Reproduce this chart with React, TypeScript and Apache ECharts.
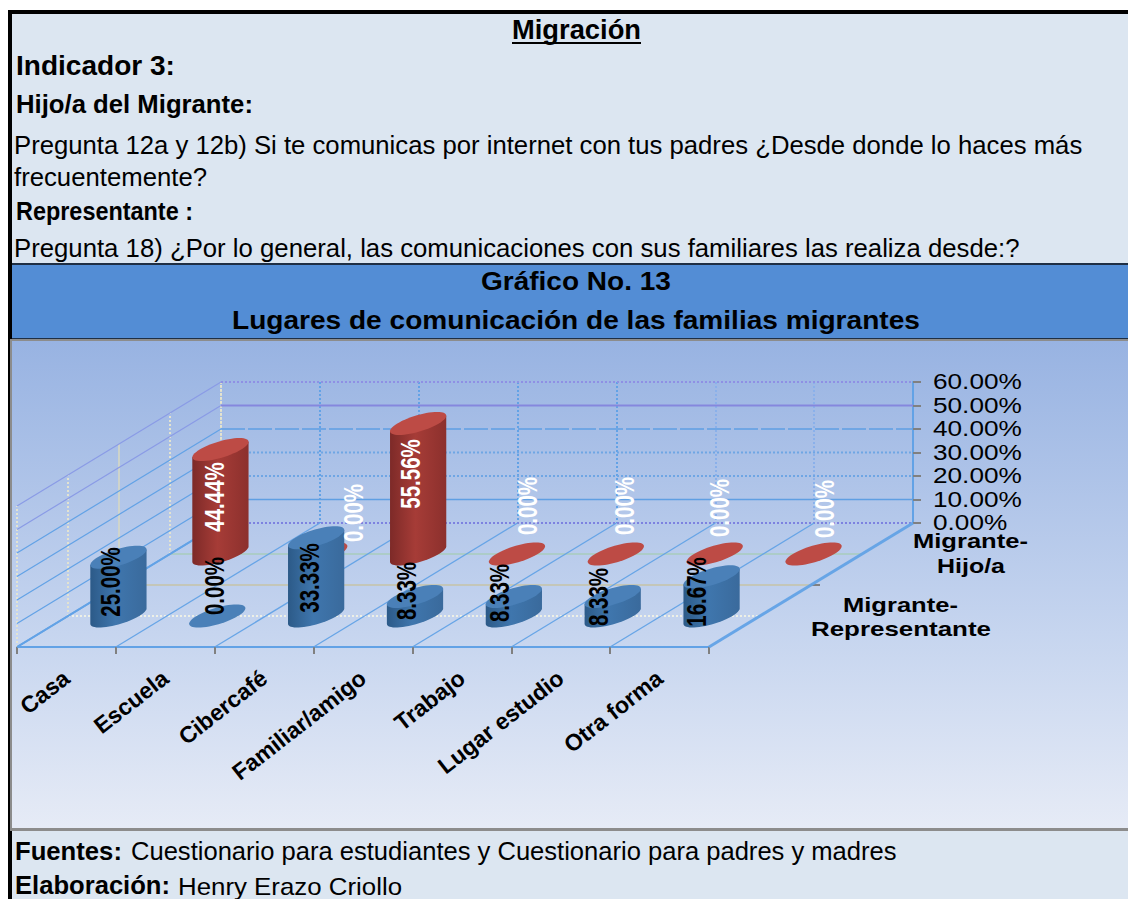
import React, { useEffect, useRef } from "react";
import * as echarts from "echarts";

const categories = ["Casa", "Escuela", "Cibercafé", "Familiar/amigo", "Trabajo", "Lugar estudio", "Otra forma"];
const representante = [25.0, 0.0, 33.33, 8.33, 8.33, 8.33, 16.67];
const hijo = [44.44, 0.0, 55.56, 0.0, 0.0, 0.0, 0.0];
const yTicks = [0, 10, 20, 30, 40, 50, 60];
const depthSteps = [0, 0.25, 0.5, 0.75, 1];

// layout only
const FONT = "'Liberation Sans', Arial, sans-serif";
const DEPTH_X = 204;
const DEPTH_Y = -124;
const blueLabelNudge = [[-8, -34], [-3, -30], [-7, -38], [-9, -25], [-14, -23], [-14, -19], [-15, -24]];
const redLabelNudge = [[-6, -57], [34, -41], [-8, -80], [10, -48], [9, -48], [5, -46], [11, -45]];
const backLineStyles: any[] = [
  { stroke: "#7d82e0", lineWidth: 2, lineDash: [2, 2] },
  { stroke: "#5f9fe3", lineWidth: 1.6 },
  { stroke: "#6fa6e4", lineWidth: 2, lineDash: [2, 2] },
  { stroke: "#6fa6e4", lineWidth: 2, lineDash: [2, 2] },
  { stroke: "#5f9fe3", lineWidth: 1.4, lineDash: [24, 3] },
  { stroke: "#8587de", lineWidth: 2 },
  { stroke: "#8f90e4", lineWidth: 2, lineDash: [2, 2] },
];
const floorLineStyles: any[] = [
  null,
  { stroke: "#eef0e6", lineWidth: 2, lineDash: [2, 2] },
  { stroke: "#c6c3a6", lineWidth: 1.5 },
  { stroke: "#a9cdbc", lineWidth: 1.5 },
  null,
];

const measureCtx = document.createElement("canvas").getContext("2d")!;

function txt(text: string, x: number, y: number, size: number, bold: boolean, width: number, fill = "#000") {
  const font = `${bold ? "bold " : ""}${size}px ${FONT}`;
  measureCtx.font = font;
  const scale = width / measureCtx.measureText(text).width;
  return {
    type: "text",
    x,
    y,
    scaleX: scale,
    z: 1,
    silent: true,
    style: { text, x: 0, y: 0, font, fill, align: "left", textAlign: "left", verticalAlign: "middle", textVerticalAlign: "middle" },
  };
}

function frontOrigin(api: any, i: number) {
  const c = api.coord([i, 0]);
  const band = api.size([1, 0])[0];
  return { x: c[0], y: c[1], band };
}

function renderBars(depth: number, colors: { top: string; dark: string; mid: string; right: string }) {
  return (params: any, api: any) => {
    const i = api.value(0);
    const v = api.value(1);
    const o = frontOrigin(api, i);
    const top = api.coord([i, v]);
    const cx = o.x + depth * DEPTH_X + 1;
    const cy = o.y + depth * DEPTH_Y;
    const h = o.y - top[1];
    const rx = o.band * 0.21;
    const rdx = DEPTH_X * 0.093;
    const rdy = DEPTH_Y * 0.093;
    const t0 = Math.atan2(rdx, rx);
    const pt = (t: number, yy: number) => [cx + rx * Math.cos(t) + rdx * Math.sin(t), yy + rdy * Math.sin(t)];
    const N = 28;
    const children: any[] = [];
    if (h > 0.5) {
      const body: number[][] = [];
      for (let k = 0; k <= N; k++) body.push(pt(t0 - (Math.PI * k) / N, cy));
      body.push(pt(t0 - Math.PI, cy - h));
      body.push(pt(t0, cy - h));
      children.push({
        type: "polygon",
        shape: { points: body },
        style: {
          fill: new echarts.graphic.LinearGradient(0, 0, 1, 0, [
            { offset: 0, color: colors.dark },
            { offset: 0.45, color: colors.mid },
            { offset: 1, color: colors.right },
          ]),
        },
      });
    }
    const cap: number[][] = [];
    for (let k = 0; k < N * 2; k++) cap.push(pt((Math.PI * k) / N, cy - h));
    children.push({ type: "polygon", shape: { points: cap }, style: { fill: colors.top } });
    return { type: "group", children };
  };
}

function renderLabels(depth: number, nudge: number[][], fill: string, weight: string) {
  return (params: any, api: any) => {
    const i = api.value(0);
    const v = api.value(1);
    const o = frontOrigin(api, i);
    const font = `${weight} 27px ${FONT}`;
    return {
      type: "text",
      x: o.x + depth * DEPTH_X + 1 + nudge[i][0],
      y: o.y + depth * DEPTH_Y + nudge[i][1],
      rotation: Math.PI / 2,
      scaleX: 0.76,
      style: {
        text: v.toFixed(2) + "%",
        x: 0,
        y: 0,
        font,
        fill,
        align: "center",
        textAlign: "center",
        verticalAlign: "middle",
        textVerticalAlign: "middle",
      },
    };
  };
}

function renderDepthLines(params: any, api: any) {
  const i = api.value(0);
  const o = frontOrigin(api, i);
  const lx = o.x - o.band / 2;
  const line = (x: number, lw: number) => ({
    type: "line",
    shape: { x1: x, y1: o.y, x2: x + DEPTH_X, y2: o.y + DEPTH_Y },
    style: { stroke: "#62a2e6", lineWidth: lw, opacity: 0.95 },
  });
  const children: any[] = [line(lx, i === 0 ? 2 : 1.3)];
  if (i === categories.length - 1) children.push(line(lx + o.band, 3));
  return { type: "group", children };
}

function renderFloorSteps(params: any, api: any) {
  const idx = api.value(0);
  const d = depthSteps[idx];
  const o = frontOrigin(api, 0);
  const hTop = api.coord([0, yTicks[yTicks.length - 1]]);
  const h = o.y - hTop[1];
  const lx = o.x - o.band / 2;
  const W = o.band * categories.length;
  const x = lx + d * DEPTH_X;
  const y = o.y + d * DEPTH_Y;
  const children: any[] = [
    {
      type: "line",
      shape: { x1: x, y1: y, x2: x, y2: y - h },
      style: d === 0.5 ? { stroke: "#d6d8c4", lineWidth: 1.6 } : { stroke: "#e3e3d0", lineWidth: 2, lineDash: [2, 2] },
    },
  ];
  const fs = floorLineStyles[idx];
  if (fs) {
    children.push({ type: "line", shape: { x1: x, y1: y, x2: x + W, y2: y }, style: fs });
  }
  if (idx === 2) {
    children.push({ type: "line", shape: { x1: x + W, y1: y, x2: x + W + 9, y2: y }, style: { stroke: "#808080", lineWidth: 2 } });
  }
  return { type: "group", children };
}

function renderWallLines(params: any, api: any) {
  const v = api.value(1);
  const o = frontOrigin(api, 0);
  const p = api.coord([0, v]);
  const lx = o.x - o.band / 2;
  const W = o.band * categories.length;
  return {
    type: "group",
    children: [
      {
        type: "line",
        shape: { x1: lx, y1: p[1], x2: lx + DEPTH_X, y2: p[1] + DEPTH_Y },
        style: { stroke: v > 45 ? "#8a9be6" : "#62a2e6", lineWidth: v === 0 ? 2 : 1.2 },
      },
      {
        type: "line",
        shape: { x1: lx + DEPTH_X, y1: p[1] + DEPTH_Y, x2: lx + DEPTH_X + W, y2: p[1] + DEPTH_Y },
        style: backLineStyles[params.dataIndex],
      },
    ],
  };
}

function renderTickLabel(params: any, api: any) {
  const v = api.value(1);
  const p = api.coord([categories.length - 1, v]);
  const band = api.size([1, 0])[0];
  return {
    type: "text",
    x: p[0] + band / 2 + 20,
    y: p[1] - 0.5,
    scaleX: 1.19,
    style: {
      text: v.toFixed(2) + "%",
      x: 0,
      y: 0,
      font: `22px ${FONT}`,
      fill: "#000",
      align: "left",
      textAlign: "left",
      verticalAlign: "middle",
      textVerticalAlign: "middle",
    },
  };
}

export default function App() {
  const ref = useRef<HTMLDivElement>(null);
  useEffect(() => {
    document.body.style.margin = "0";
    const chart = echarts.init(ref.current!, undefined, { renderer: "svg" });
    const points = (arr: number[]) => arr.map((v, i) => [i, v]);
    const blue = { top: "#4a80b8", dark: "#2c5a88", mid: "#3f76ad", right: "#3a6a9c" };
    const red = { top: "#bd4b45", dark: "#7d2a28", mid: "#a63c37", right: "#8c302d" };
    const common = { type: "custom", xAxisIndex: 0, yAxisIndex: 0, silent: true, encode: { x: 0, y: 1 }, clip: false };
    chart.setOption({
      animation: false,
      backgroundColor: "#ffffff",
      tooltip: { show: false },
      graphic: [
        { type: "rect", z: -5, shape: { x: 8, y: 10, width: 1120, height: 889 }, style: { fill: "#000" } },
        { type: "rect", z: -4, shape: { x: 12, y: 14, width: 1116, height: 885 }, style: { fill: "#dce6f1" } },
        { type: "rect", z: -3, shape: { x: 12, y: 263, width: 1116, height: 76 }, style: { fill: "#1f2f44" } },
        { type: "rect", z: -3, shape: { x: 12, y: 265, width: 1116, height: 73 }, style: { fill: "#538dd5" } },
        { type: "rect", z: -3, shape: { x: 10, y: 339, width: 1118, height: 492 }, style: { fill: "#8c8c8c" } },
        {
          type: "rect",
          z: -2,
          shape: { x: 12, y: 341, width: 1116, height: 487 },
          style: {
            fill: new echarts.graphic.LinearGradient(0, 0, 0, 1, [
              { offset: 0, color: "#98b3e2" },
              { offset: 0.6, color: "#c6d5ef" },
              { offset: 1, color: "#e6ebf6" },
            ]),
          },
        },
        txt("Migración", 512, 30, 27, true, 129),
        { type: "line", z: 1, shape: { x1: 512, y1: 43, x2: 641, y2: 43 }, style: { stroke: "#000", lineWidth: 2 } },
        txt("Indicador 3:", 16, 66, 27, true, 159),
        txt("Hijo/a del Migrante:", 16, 104, 25, true, 237),
        txt("Pregunta 12a y 12b) Si te comunicas por internet con tus padres ¿Desde donde lo haces más", 14, 145, 25, false, 1069),
        txt("frecuentemente?", 14, 177, 25, false, 193),
        txt("Representante :", 16, 211, 25, true, 177),
        txt("Pregunta 18) ¿Por lo general, las comunicaciones con sus familiares las realiza desde:?", 14, 248, 25, false, 1006),
        txt("Gráfico No. 13", 481, 281, 26, true, 190),
        txt("Lugares de comunicación de las familias migrantes", 232, 320, 26, true, 688),
        txt("Migrante-", 913, 541, 21, true, 115),
        txt("Hijo/a", 937, 566, 21, true, 68),
        txt("Migrante-", 843, 605, 21, true, 115),
        txt("Representante", 811, 629, 21, true, 180),
        txt("Fuentes:", 15, 851, 25, true, 107),
        txt("Cuestionario para estudiantes y Cuestionario para padres y madres", 131, 851, 25, false, 766),
        txt("Elaboración:", 15, 885, 25, true, 155),
        txt("Henry Erazo Criollo", 178, 886, 24, false, 224),
      ],
      grid: [
        { left: 17, width: 692, top: 506, height: 141, containLabel: false },
        { left: 221, width: 692, top: 382, height: 141, containLabel: false },
      ],
      xAxis: [
        {
          type: "category",
          gridIndex: 0,
          data: categories,
          boundaryGap: true,
          axisLine: { lineStyle: { color: "#62a2e6", width: 2 } },
          axisTick: { show: true, length: 7, lineStyle: { color: "#808080", width: 2 } },
          axisLabel: { rotate: 38, interval: 0, margin: 28, fontFamily: FONT, fontWeight: "bold", fontSize: 23, color: "#000" },
          splitLine: { show: false },
        },
        {
          type: "category",
          gridIndex: 1,
          data: categories,
          boundaryGap: true,
          axisLine: { show: false },
          axisTick: { show: false },
          axisLabel: { show: false },
          splitLine: {
            show: true,
            interval: 0,
            lineStyle: {
              color: ["#dcdcca", "#62a2e6", "#62a2e6", "#62a2e6", "#62a2e6", "#8ab0ea", "#8ab0ea"],
              width: 2,
              type: "dotted",
            },
          },
        },
      ],
      yAxis: [
        {
          type: "value",
          gridIndex: 0,
          min: 0,
          max: 60,
          interval: 10,
          axisLine: { show: false },
          axisTick: { show: false },
          axisLabel: { show: false },
          splitLine: { show: false },
        },
        {
          type: "value",
          gridIndex: 1,
          position: "right",
          min: 0,
          max: 60,
          interval: 10,
          axisLine: { show: true, lineStyle: { color: "#62a2e6", width: 2 } },
          axisTick: { show: true, length: 8, lineStyle: { color: "#808080", width: 2 } },
          axisLabel: { show: false },
          splitLine: { show: false },
        },
      ],
      series: [
        { ...common, name: "floor", z: 1, data: depthSteps.map((d, i) => [i, d]), renderItem: renderFloorSteps },
        { ...common, name: "walls", z: 1, data: yTicks.map((v) => [0, v]), renderItem: renderWallLines },
        { ...common, name: "depth", z: 1, data: categories.map((c, i) => [i, 0]), renderItem: renderDepthLines },
        { ...common, name: "Migrante-Hijo/a", z: 3, data: points(hijo), renderItem: renderBars(0.75, red) },
        { ...common, name: "Migrante-Representante", z: 4, data: points(representante), renderItem: renderBars(0.25, blue) },
        { ...common, name: "etiquetas Hijo/a", z: 5, data: points(hijo), renderItem: renderLabels(0.75, redLabelNudge, "#ffffff", "bold") },
        { ...common, name: "etiquetas Representante", z: 5, data: points(representante), renderItem: renderLabels(0.25, blueLabelNudge, "#000000", "bold") },
        { ...common, name: "eje", xAxisIndex: 1, yAxisIndex: 1, z: 5, data: yTicks.map((v) => [categories.length - 1, v]), renderItem: renderTickLabel },
      ],
    });
    return () => chart.dispose();
  }, []);
  return <div ref={ref} style={{ width: 1128, height: 899, overflow: "hidden" }} />;
}
